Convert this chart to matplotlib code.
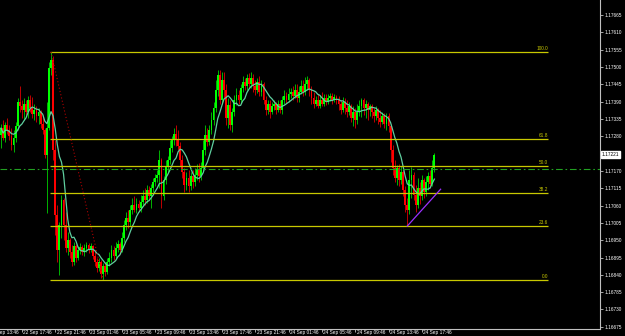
import matplotlib
matplotlib.use("Agg")
import matplotlib.pyplot as plt
import matplotlib.transforms as mtransforms
import numpy as np
import pandas as pd

plt.rcParams['font.family'] = ['Liberation Sans Narrow', 'Liberation Sans', 'DejaVu Sans']

# EURUSD-like M15 bars, open of each bar = close of the bar before
first_open = 1.17284
high = [
    1.17319, 1.17332, 1.17325, 1.17338, 1.17316, 1.17306, 1.17300, 1.17325, 1.17402, 1.17440,
    1.17395, 1.17402, 1.17395, 1.17408, 1.17411, 1.17405, 1.17383, 1.17376, 1.17370, 1.17364,
    1.17348, 1.17306, 1.17389, 1.17516, 1.17548, 1.17535, 1.17268, 1.17062, 1.17008, 1.17094,
    1.17084, 1.17040, 1.16976, 1.16957, 1.16935, 1.16944, 1.16938, 1.16932, 1.16941, 1.16935,
    1.16938, 1.16944, 1.16941, 1.16941, 1.16935, 1.16919, 1.16894, 1.16894, 1.16887, 1.16878,
    1.16881, 1.16894, 1.16913, 1.16935, 1.16932, 1.16944, 1.16951, 1.16944, 1.16976, 1.17014,
    1.17040, 1.17046, 1.17062, 1.17084, 1.17091, 1.17084, 1.17078, 1.17094, 1.17110, 1.17116,
    1.17125, 1.17122, 1.17129, 1.17148, 1.17160, 1.17173, 1.17237, 1.17211, 1.17154, 1.17205,
    1.17217, 1.17268, 1.17281, 1.17306, 1.17316, 1.17300, 1.17262, 1.17221, 1.17179, 1.17167,
    1.17173, 1.17167, 1.17173, 1.17179, 1.17192, 1.17195, 1.17198, 1.17268, 1.17316, 1.17306,
    1.17316, 1.17357, 1.17389, 1.17459, 1.17491, 1.17491, 1.17484, 1.17484, 1.17446, 1.17402,
    1.17395, 1.17370, 1.17411, 1.17434, 1.17427, 1.17446, 1.17472, 1.17465, 1.17478, 1.17481,
    1.17484, 1.17478, 1.17459, 1.17465, 1.17472, 1.17459, 1.17453, 1.17408, 1.17395, 1.17395,
    1.17389, 1.17395, 1.17389, 1.17395, 1.17395, 1.17408, 1.17427, 1.17421, 1.17434, 1.17434,
    1.17440, 1.17446, 1.17446, 1.17440, 1.17459, 1.17459, 1.17468, 1.17472, 1.17465, 1.17440,
    1.17421, 1.17408, 1.17414, 1.17411, 1.17421, 1.17414, 1.17414, 1.17414, 1.17418, 1.17418,
    1.17414, 1.17411, 1.17408, 1.17395, 1.17405, 1.17402, 1.17395, 1.17389, 1.17383, 1.17376,
    1.17370, 1.17383, 1.17395, 1.17402, 1.17402, 1.17395, 1.17389, 1.17383, 1.17383, 1.17370,
    1.17376, 1.17370, 1.17364, 1.17357, 1.17354, 1.17354, 1.17354, 1.17319, 1.17253, 1.17205,
    1.17189, 1.17192, 1.17186, 1.17173, 1.17122, 1.17084, 1.17173, 1.17183, 1.17167, 1.17125,
    1.17148, 1.17135, 1.17157, 1.17148, 1.17154, 1.17167, 1.17173, 1.17205, 1.17227,
]
low = [
    1.17243, 1.17268, 1.17262, 1.17287, 1.17268, 1.17237, 1.17230, 1.17262, 1.17300, 1.17357,
    1.17338, 1.17332, 1.17348, 1.17338, 1.17357, 1.17338, 1.17332, 1.17325, 1.17319, 1.17306,
    1.17287, 1.17211, 1.17036, 1.17300, 1.17475, 1.17205, 1.16967, 1.16881, 1.16840, 1.16957,
    1.16951, 1.16913, 1.16903, 1.16894, 1.16868, 1.16871, 1.16881, 1.16887, 1.16906, 1.16903,
    1.16900, 1.16913, 1.16909, 1.16913, 1.16890, 1.16868, 1.16849, 1.16852, 1.16830, 1.16824,
    1.16836, 1.16843, 1.16868, 1.16881, 1.16887, 1.16894, 1.16913, 1.16906, 1.16913, 1.16944,
    1.16983, 1.16989, 1.16995, 1.17033, 1.17040, 1.17036, 1.17043, 1.17040, 1.17062, 1.17062,
    1.17068, 1.17078, 1.17052, 1.17103, 1.17122, 1.17135, 1.17116, 1.17052, 1.17078, 1.17129,
    1.17167, 1.17192, 1.17230, 1.17253, 1.17249, 1.17237, 1.17186, 1.17148, 1.17103, 1.17110,
    1.17103, 1.17110, 1.17116, 1.17122, 1.17141, 1.17135, 1.17141, 1.17167, 1.17221, 1.17249,
    1.17253, 1.17287, 1.17316, 1.17357, 1.17408, 1.17383, 1.17383, 1.17402, 1.17316, 1.17306,
    1.17300, 1.17294, 1.17345, 1.17380, 1.17383, 1.17386, 1.17421, 1.17427, 1.17427, 1.17434,
    1.17434, 1.17421, 1.17411, 1.17418, 1.17408, 1.17408, 1.17383, 1.17348, 1.17351, 1.17338,
    1.17351, 1.17364, 1.17351, 1.17357, 1.17354, 1.17351, 1.17383, 1.17386, 1.17389, 1.17402,
    1.17395, 1.17402, 1.17389, 1.17389, 1.17414, 1.17408, 1.17411, 1.17427, 1.17408, 1.17383,
    1.17370, 1.17376, 1.17370, 1.17370, 1.17376, 1.17376, 1.17380, 1.17383, 1.17392, 1.17383,
    1.17389, 1.17383, 1.17364, 1.17351, 1.17357, 1.17351, 1.17341, 1.17348, 1.17325, 1.17313,
    1.17306, 1.17319, 1.17345, 1.17341, 1.17348, 1.17338, 1.17332, 1.17345, 1.17338, 1.17325,
    1.17332, 1.17319, 1.17310, 1.17319, 1.17306, 1.17300, 1.17294, 1.17198, 1.17157, 1.17135,
    1.17125, 1.17122, 1.17129, 1.17091, 1.17040, 1.16995, 1.17033, 1.17084, 1.17078, 1.17040,
    1.17052, 1.17065, 1.17078, 1.17084, 1.17091, 1.17110, 1.17116, 1.17122, 1.17167,
]
close = [
    1.17306, 1.17275, 1.17316, 1.17300, 1.17281, 1.17253, 1.17275, 1.17313, 1.17389, 1.17376,
    1.17364, 1.17383, 1.17357, 1.17395, 1.17370, 1.17351, 1.17364, 1.17345, 1.17357, 1.17319,
    1.17300, 1.17221, 1.17306, 1.17497, 1.17522, 1.17237, 1.17030, 1.16919, 1.16998, 1.17078,
    1.16998, 1.16925, 1.16951, 1.16913, 1.16881, 1.16932, 1.16894, 1.16919, 1.16929, 1.16913,
    1.16925, 1.16935, 1.16919, 1.16932, 1.16900, 1.16881, 1.16862, 1.16881, 1.16843, 1.16868,
    1.16849, 1.16881, 1.16894, 1.16919, 1.16900, 1.16925, 1.16938, 1.16919, 1.16957, 1.16998,
    1.17021, 1.17008, 1.17046, 1.17062, 1.17046, 1.17065, 1.17052, 1.17071, 1.17091, 1.17078,
    1.17110, 1.17091, 1.17116, 1.17135, 1.17148, 1.17157, 1.17205, 1.17091, 1.17141, 1.17186,
    1.17205, 1.17243, 1.17268, 1.17287, 1.17268, 1.17249, 1.17205, 1.17167, 1.17125, 1.17148,
    1.17122, 1.17154, 1.17135, 1.17157, 1.17173, 1.17154, 1.17179, 1.17237, 1.17284, 1.17262,
    1.17300, 1.17332, 1.17370, 1.17427, 1.17475, 1.17395, 1.17459, 1.17427, 1.17338, 1.17380,
    1.17316, 1.17357, 1.17395, 1.17411, 1.17395, 1.17434, 1.17453, 1.17440, 1.17465, 1.17446,
    1.17465, 1.17440, 1.17427, 1.17453, 1.17421, 1.17446, 1.17395, 1.17364, 1.17383, 1.17357,
    1.17376, 1.17383, 1.17364, 1.17383, 1.17364, 1.17395, 1.17408, 1.17395, 1.17414, 1.17421,
    1.17408, 1.17427, 1.17402, 1.17421, 1.17440, 1.17421, 1.17446, 1.17459, 1.17427, 1.17402,
    1.17383, 1.17395, 1.17376, 1.17395, 1.17383, 1.17402, 1.17389, 1.17402, 1.17408, 1.17395,
    1.17405, 1.17395, 1.17383, 1.17364, 1.17389, 1.17370, 1.17357, 1.17376, 1.17338, 1.17357,
    1.17332, 1.17357, 1.17376, 1.17395, 1.17370, 1.17383, 1.17364, 1.17376, 1.17357, 1.17345,
    1.17364, 1.17338, 1.17325, 1.17345, 1.17319, 1.17345, 1.17313, 1.17237, 1.17179, 1.17148,
    1.17179, 1.17141, 1.17167, 1.17110, 1.17062, 1.17046, 1.17141, 1.17157, 1.17094, 1.17062,
    1.17116, 1.17091, 1.17141, 1.17103, 1.17135, 1.17154, 1.17129, 1.17179, 1.17221,
]

time_labels = ["22 Sep 13:46", "22 Sep 17:46", "22 Sep 21:46", "23 Sep 01:46", "23 Sep 05:46",
               "23 Sep 09:46", "23 Sep 13:46", "23 Sep 17:46", "23 Sep 21:46", "24 Sep 01:46",
               "24 Sep 05:46", "24 Sep 09:46", "24 Sep 13:46", "24 Sep 17:46"]
time_label_bars = [-6, 10, 26, 42, 58, 74, 90, 106, 122, 138, 154, 170, 186, 202]
price_ticks = [1.17665, 1.17610, 1.17555, 1.17500, 1.17445, 1.17390, 1.17335, 1.17280,
               1.17170, 1.17115, 1.17060, 1.17005, 1.16950, 1.16895, 1.16840, 1.16785,
               1.16730, 1.16675]

fib_levels = [0.0, 23.6, 38.2, 50.0, 61.8, 100.0]
fib_high_bar, fib_high = 24, 1.17548
fib_low_bar, fib_low = 49, 1.16824
hline_price = 1.17175
trend_bars = [195, 211]
trend_prices = [1.16995, 1.17112]
ma_period = 8

n = len(close)
idx = np.arange(n)
opens = np.array([first_open] + close[:-1])
close_a = np.array(close)
up = close_a >= opens

fs = 3.4
fig = plt.figure(figsize=(6.25, 3.36), dpi=100, facecolor="black")
ax = fig.add_axes([0, 6.7 / 336, 600 / 625, 329.3 / 336], facecolor="black")

# candles
wick_col = np.where(up, "#00b400", "#c00000")
body_col = np.where(up, "#00ff00", "#ff0000")
ax.vlines(idx, low, high, colors=wick_col, lw=0.7, zorder=2)
body_h = np.maximum(np.abs(close_a - opens), 0.000015)
ax.bar(idx, body_h, bottom=np.minimum(close_a, opens), width=0.85,
       color=body_col, linewidth=0, zorder=3)

# moving average
ma = pd.Series(close).rolling(ma_period, min_periods=1).mean()
ax.plot(idx, ma, color="#5fcf9f", lw=0.9, zorder=4)

# fibonacci retracement
fib_end = 262.5
for lvl in fib_levels:
    p = fib_low + (fib_high - fib_low) * lvl / 100
    ax.hlines(p, fib_high_bar - 0.5, fib_end, color="#c8c800", lw=0.9, zorder=5)
    ax.text(fib_end, p + 0.00002, "%.1f" % lvl, color="#c8c800", fontsize=fs,
            ha="right", va="bottom", zorder=5)
ax.plot([fib_high_bar, fib_low_bar], [fib_high, fib_low], color="#b00000",
        lw=0.8, ls=(0, (1, 2)), zorder=5)

# horizontal line and trend line
ax.axhline(hline_price, color="#22a022", lw=0.8, ls=(0, (6, 2.5, 1.5, 2.5)), zorder=5)
ax.plot(trend_bars, trend_prices, color="#9b30ff", lw=0.9, zorder=5)

for s in ["top", "left"]:
    ax.spines[s].set_visible(False)
for s in ["right", "bottom"]:
    ax.spines[s].set_color("#c0c0c0")
    ax.spines[s].set_linewidth(0.8)

ax.yaxis.tick_right()
ax.set_yticks(price_ticks)
ax.set_yticklabels(["%.5f" % p for p in price_ticks])
ax.set_xticks(time_label_bars[1:])
ax.set_xticklabels([])
ax.tick_params(colors="#c0c0c0", labelcolor="white", labelsize=fs, length=2, width=0.6, pad=1.5)
ax.set_xlim(-0.5, 287.5)
ax.set_ylim(1.16667, 1.17713)

# time labels drawn as text so the cut one at the left edge stays
xtrans = mtransforms.blended_transform_factory(ax.transData, ax.transAxes) + \
    mtransforms.ScaledTranslation(1.5 / 100, -1.0 / 100, fig.dpi_scale_trans)
for b, lab in zip(time_label_bars, time_labels):
    ax.text(b, 0, lab, transform=xtrans, fontsize=fs, color="white",
            ha="left", va="top", clip_on=False)

# current bid label
trans = mtransforms.blended_transform_factory(ax.transAxes, ax.transData)
ax.text(1.003, close[-1], "%.5f" % close[-1], transform=trans, fontsize=fs,
        color="black", ha="left", va="center", clip_on=False,
        bbox=dict(facecolor="white", edgecolor="white", pad=0.7))

fig.savefig("out.png", dpi=100, facecolor="black")
